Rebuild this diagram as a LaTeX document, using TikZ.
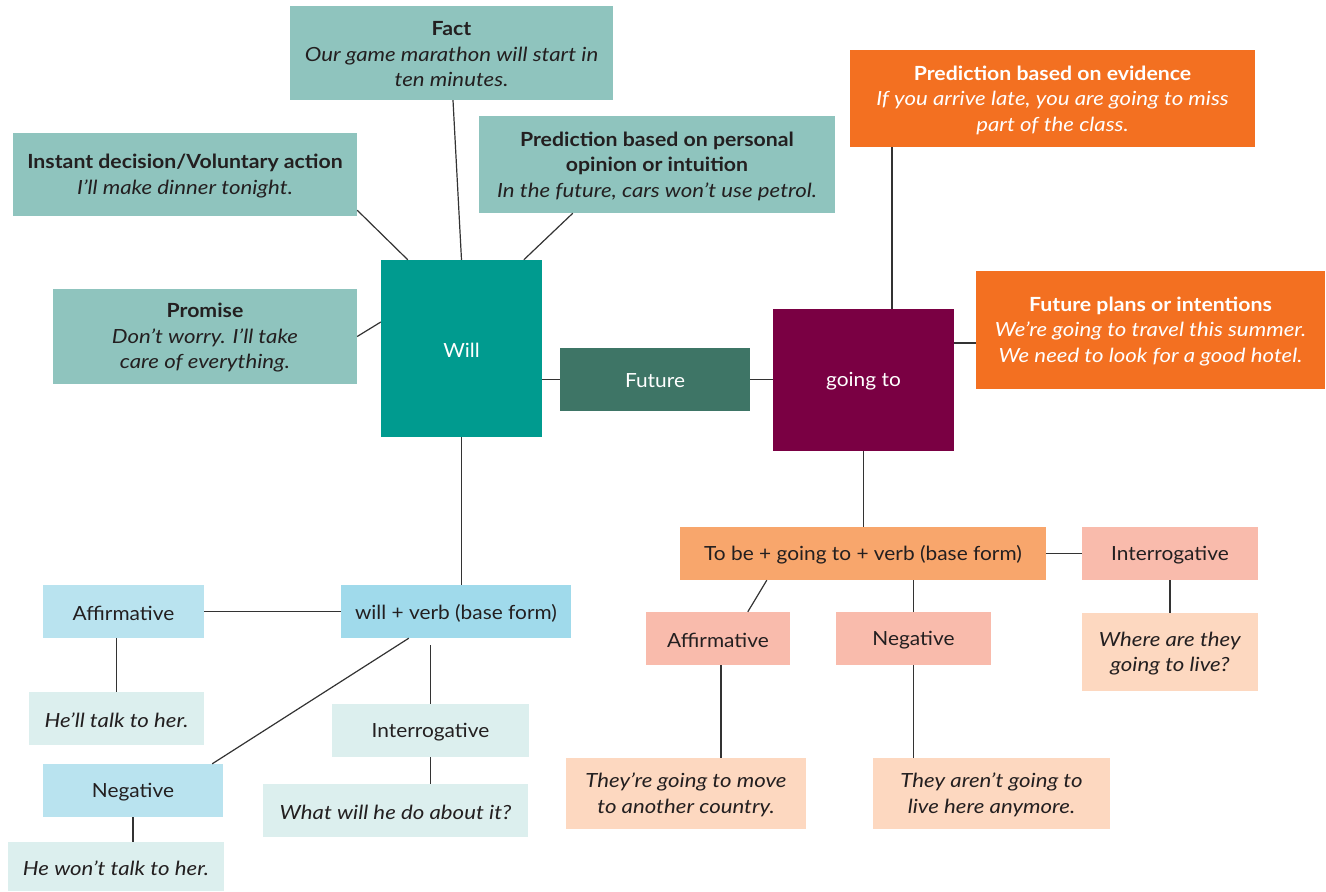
\documentclass[tikz,border=0pt]{standalone}
\usepackage{fontspec}
\setmainfont{Lato}[FakeStretch=1.07,
  BoldFeatures={FakeStretch=1.09},
  ItalicFeatures={FakeStretch=1.14}]
\usetikzlibrary{calc}

\definecolor{inktext}{HTML}{231F20}
\definecolor{linkgray}{HTML}{333333}
\definecolor{tealsoft}{HTML}{8FC4BE}
\definecolor{tealwill}{HTML}{009B8F}
\definecolor{greenfut}{HTML}{3E7566}
\definecolor{plumgo}{HTML}{7A0043}
\definecolor{orangeev}{HTML}{F37021}
\definecolor{orangeform}{HTML}{F8A66C}
\definecolor{pinkcase}{HTML}{F9BBAC}
\definecolor{peachex}{HTML}{FDD8C0}
\definecolor{bluestrong}{HTML}{A0DAEB}
\definecolor{bluecase}{HTML}{B9E3EF}
\definecolor{paleex}{HTML}{DCEFEE}

% \mkbox{name}{x1}{y1}{x2}{y2}{style}{text}
% the box itself, then its label set a little below the centre
\newcommand\mkbox[7]{%
  \node[#6, minimum width={(#4-#2)*1pt}, minimum height={(#5-#3)*1pt}]
    (#1) at ({(#2+#4)/2},{(#3+#5)/2}) {};
  \node[#6, fill=none, yshift=-1.5pt] (#1-label) at (#1.center) {#7};}

\begin{document}
\begin{tikzpicture}[x=1pt,y=-1pt,
  base/.style={rectangle, inner sep=0pt, align=center, text=inktext,
    font=\fontsize{19.5}{25.5}\selectfont},
  usebox/.style={base, fill=tealsoft},
  willbox/.style={base, fill=tealwill, text=white},
  futbox/.style={base, fill=greenfut, text=white},
  gobox/.style={base, fill=plumgo, text=white},
  evbox/.style={base, fill=orangeev, text=white},
  formgo/.style={base, fill=orangeform},
  casego/.style={base, fill=pinkcase},
  exgo/.style={base, fill=peachex},
  formwill/.style={base, fill=bluestrong},
  casewill/.style={base, fill=bluecase},
  exwill/.style={base, fill=paleex},
  link/.style={draw=linkgray, line width=1.2pt}]
\useasboundingbox (0,0) rectangle (1326,892);

% uses of will
\mkbox{fact}{290}{6}{613}{100}{usebox}{\textbf{Fact}\\\textit{Our game marathon will start in}\\\textit{ten minutes.}}
\mkbox{instant}{13}{133}{357}{216}{usebox}{\textbf{Instant decision/Voluntary action}\\\textit{I’ll make dinner tonight.}}
\mkbox{personal}{479}{116}{835}{213}{usebox}{\textbf{Prediction based on personal}\\\textbf{opinion or intuition}\\\textit{In the future, cars won’t use petrol.}}
\mkbox{promise}{53}{289}{357}{384}{usebox}{\textbf{Promise}\\\textit{Don’t worry. I’ll take}\\\textit{care of everything.}}

% centre
\mkbox{will}{381}{260}{542}{437}{willbox}{Will}
\mkbox{future}{560}{348}{750}{411}{futbox}{Future}
\mkbox{goingto}{773}{309}{954}{451}{gobox}{going to}

% uses of going to
\mkbox{evidence}{850}{50}{1255}{147}{evbox}{\textbf{Prediction based on evidence}\\\textit{If you arrive late, you are going to miss}\\\textit{part of the class.}}
\mkbox{plans}{976}{271}{1325}{389}{evbox}{\textbf{Future plans or intentions}\\\textit{We’re going to travel this summer.}\\\textit{We need to look for a good hotel.}}

% going to: form
\mkbox{tobe}{680}{527}{1046}{580}{formgo}{To be + going to + verb (base form)}
\mkbox{rint}{1082}{527}{1258}{580}{casego}{Interrogative}
\mkbox{raff}{646}{612}{790}{665}{casego}{Affirmative}
\mkbox{rneg}{836}{612}{991}{665}{casego}{Negative}
\mkbox{where}{1082}{613}{1258}{691}{exgo}{\textit{Where are they}\\\textit{going to live?}}
\mkbox{move}{566}{758}{806}{829}{exgo}{\textit{They’re going to move}\\\textit{to another country.}}
\mkbox{arent}{873}{758}{1110}{829}{exgo}{\textit{They aren’t going to}\\\textit{live here anymore.}}

% will: form
\mkbox{wv}{341}{585}{571}{638}{formwill}{will + verb (base form)}
\mkbox{laff}{43}{585}{204}{638}{casewill}{Affirmative}
\mkbox{hell}{29}{692}{204}{745}{exwill}{\textit{He’ll talk to her.}}
\mkbox{lint}{332}{704}{529}{757}{exwill}{Interrogative}
\mkbox{what}{263}{784}{528}{837}{exwill}{\textit{What will he do about it?}}
\mkbox{lneg}{43}{764}{223}{817}{casewill}{Negative}
\mkbox{wont}{8}{842}{224}{891}{exwill}{\textit{He won’t talk to her.}}

% connectors around will
\draw[link] ($(instant.south east)+(0,-6)$) -- ($(will.north west)+(27,0)$);
\draw[link] ($(fact.south)+(1.5,0)$) -- (will.north);
\draw[link] ($(personal.south west)+(94,0)$) -- ($(will.north west)+(143,0)$);
\draw[link] (promise.east) -- ($(will.west)+(0,-26.5)$);
\draw[link] (future.west) -- (future.west -| will.east);
\draw[link] (future.east) -- (future.east -| goingto.west);

% connectors around going to
\draw[link] ($(goingto.north)+(28.5,0)$) coordinate (gotop) -- (gotop |- evidence.south);
\draw[link] ($(goingto.east)+(0,-37)$) coordinate (goright) -- (goright -| plans.west);
\draw[link] (goingto.south) -- (goingto.south |- tobe.north);
\draw[link] (tobe.east) -- (rint.west);
\draw[link] ($(tobe.south west)+(87,0)$) -- ($(raff.north west)+(102,0)$);
\draw[link] (rneg.north) -- (rneg.north |- tobe.south);
\draw[link] (rint.south) -- (where.north);
\draw[link] ($(raff.south)+(3,0)$) coordinate (raffb) -- (raffb |- move.north);
\draw[link] (rneg.south) -- (rneg.south |- arent.north);

% will: form connectors
\draw[link] (will.south) -- (will.south |- wv.north);
\draw[link] (laff.east) -- (wv.west);
\draw[link] (hell.north) -- (hell.north |- laff.south);
\draw[link] ($(wv.south west)+(68,0)$) -- ($(lneg.north east)+(-11,0)$);
\draw[link] (lint.north) -- ($(lint.north |- wv.south)+(0,7)$);
\draw[link] (lint.south) -- (lint.south |- what.north);
\draw[link] (lneg.south) -- (lneg.south |- wont.north);
\end{tikzpicture}
\end{document}
